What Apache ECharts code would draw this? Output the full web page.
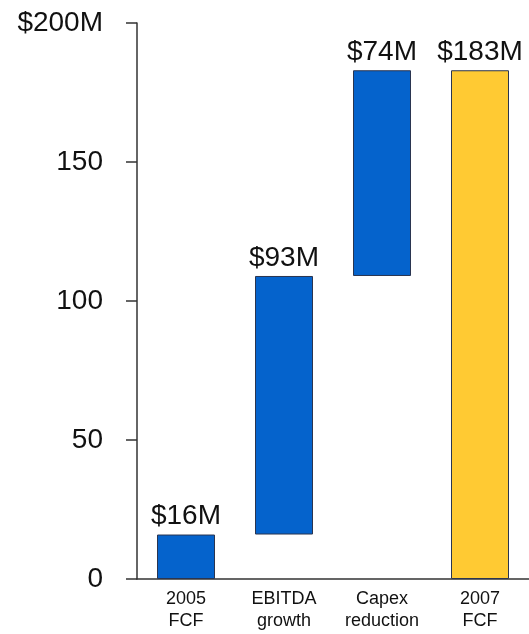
<!DOCTYPE html>
<html>
<head>
<meta charset="utf-8">
<script src="https://cdn.jsdelivr.net/npm/echarts@6/dist/echarts.min.js"></script>
<style>
  html, body { margin: 0; padding: 0; background: #fff; }
  #chart { width: 529px; height: 634px; }
</style>
</head>
<body>
<div id="chart"></div>
<script>
// puente de flujo de caja libre 2005 -> 2007
var categories = ["2005\nFCF", "EBITDA\ngrowth", "Capex\nreduction", "2007\nFCF"];
var baseValues = [0, 16, 109, 0];      // tramo invisible
var stepValues = [16, 93, 74, 183];    // tramo visible
var stepLabels = ["$16M", "$93M", "$74M", "$183M"];
var stepColors = ["#0563CC", "#0563CC", "#0563CC", "#FFCA33"];
var yTicks = [0, 50, 100, 150, 200];

var chart = echarts.init(document.getElementById('chart'));

chart.setOption({
  animation: false,
  textStyle: { fontFamily: "Liberation Sans, Arial, sans-serif" },
  grid: { left: 137, right: 0, top: 23, bottom: 55 },
  xAxis: {
    type: "category",
    data: categories,
    axisLine: { lineStyle: { color: "#333", width: 1.5 } },
    axisTick: { show: false },
    axisLabel: { color: "#111", fontSize: 18, lineHeight: 22, margin: 9, interval: 0, hideOverlap: false }
  },
  yAxis: {
    type: "value",
    min: 0,
    max: 200,
    interval: 50,
    splitLine: { show: false },
    axisLine: { show: true, lineStyle: { color: "#333", width: 1.5 } },
    axisTick: { show: true, length: 11, lineStyle: { color: "#333", width: 1.5 } },
    axisLabel: {
      color: "#111",
      fontSize: 28,
      margin: 34,
      formatter: function (v) {
        return v === yTicks[yTicks.length - 1] ? "$" + v + "M" : String(v);
      }
    }
  },
  series: [
    {
      type: "bar",
      stack: "total",
      data: baseValues,
      barWidth: 58,
      itemStyle: { color: "transparent" },
      silent: true
    },
    {
      type: "bar",
      stack: "total",
      barWidth: 58,
      data: stepValues.map(function (v, i) {
        return { value: v, itemStyle: { color: stepColors[i] } };
      }),
      itemStyle: { borderColor: "#2a3550", borderWidth: 1 },
      label: {
        show: true,
        position: "top",
        distance: 4,
        color: "#111",
        fontSize: 28,
        formatter: function (p) { return stepLabels[p.dataIndex]; }
      }
    }
  ]
});

window.addEventListener("resize", () => {
  if (chart) chart.resize();
});
</script>
</body>
</html>
